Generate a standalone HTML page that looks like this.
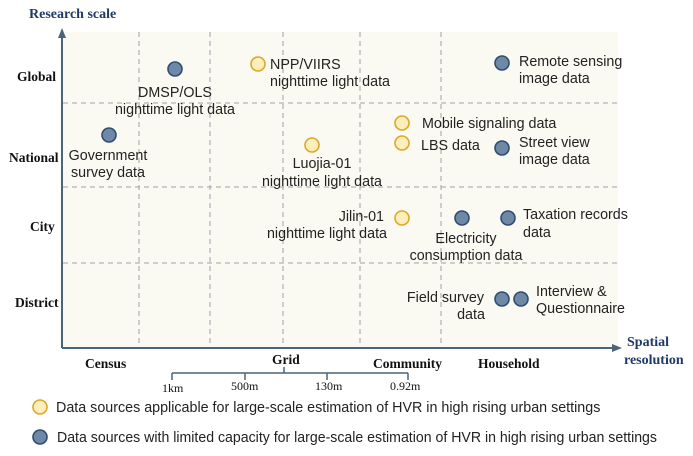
<!DOCTYPE html>
<html><head><meta charset="utf-8"><style>
html,body{margin:0;padding:0;background:#fff;width:693px;height:456px;overflow:hidden}
svg{display:block}
.t{font-family:"Liberation Sans",Arial,sans-serif;font-size:14.3px;fill:#222}
.m{text-anchor:middle}
.e{text-anchor:end}
.s{font-family:"Liberation Serif",serif;font-weight:bold;font-size:13.5px;fill:#111}
.b{font-family:"Liberation Serif",serif;font-weight:bold;font-size:14px;fill:#1f3a66}
.k{font-family:"Liberation Serif",serif;font-size:12px;fill:#111}
.y{fill:#fdeebb;stroke:#d9a92a;stroke-width:1.6}
.d{fill:#6e89a6;stroke:#2e4d72;stroke-width:1.6}
</style></head><body>
<svg width="693" height="456" viewBox="0 0 693 456">
<rect x="63" y="32" width="555" height="316" fill="#fbfaf2"/>
<g stroke="#9aa3ab" stroke-width="1" stroke-dasharray="5,4" fill="none">
<line x1="139" y1="32" x2="139" y2="348"/>
<line x1="210" y1="32" x2="210" y2="348"/>
<line x1="283" y1="32" x2="283" y2="348"/>
<line x1="360" y1="32" x2="360" y2="348"/>
<line x1="441" y1="32" x2="441" y2="348"/>
<line x1="63" y1="103" x2="618" y2="103"/>
<line x1="63" y1="187" x2="618" y2="187"/>
<line x1="63" y1="263" x2="618" y2="263"/>
</g>
<g stroke="#4a6478" stroke-width="2" fill="none">
<line x1="62" y1="348" x2="614" y2="348"/>
<line x1="62" y1="348" x2="62" y2="36"/>
</g>
<polygon points="62,28 58,38 66,38" fill="#4a6478"/>
<polygon points="622,348 612,344 612,352" fill="#4a6478"/>
<text class="b" x="29" y="18">Research scale</text>
<text class="b" x="627" y="346">Spatial</text>
<text class="b" x="624" y="364">resolution</text>
<text class="s" x="17" y="81">Global</text>
<text class="s" x="9" y="162">National</text>
<text class="s" x="30" y="231">City</text>
<text class="s" x="15" y="307">District</text>
<text class="s" x="85" y="368">Census</text>
<text class="s" x="272" y="364">Grid</text>
<text class="s" x="373" y="368">Community</text>
<text class="s" x="478" y="368">Household</text>
<g stroke="#4a6478" stroke-width="1.5" fill="none">
<line x1="172" y1="373" x2="408" y2="373"/>
<line x1="172" y1="373" x2="172" y2="380"/>
<line x1="245" y1="373" x2="245" y2="380"/>
<line x1="327" y1="373" x2="327" y2="380"/>
<line x1="408" y1="373" x2="408" y2="380"/>
<line x1="284" y1="373" x2="284" y2="367"/>
</g>
<text class="k" x="162" y="392">1km</text>
<text class="k" x="231" y="390">500m</text>
<text class="k" x="315" y="390">130m</text>
<text class="k" x="390" y="390">0.92m</text>
<circle class="d" cx="175" cy="69" r="7"/>
<circle class="y" cx="258" cy="64" r="7"/>
<circle class="d" cx="502" cy="63" r="7"/>
<circle class="d" cx="109" cy="135" r="7"/>
<circle class="y" cx="312" cy="145" r="7"/>
<circle class="y" cx="402" cy="123" r="7"/>
<circle class="y" cx="402" cy="143" r="7"/>
<circle class="d" cx="502" cy="148" r="7"/>
<circle class="y" cx="402" cy="218" r="7"/>
<circle class="d" cx="462" cy="218" r="7"/>
<circle class="d" cx="508" cy="218" r="7"/>
<circle class="d" cx="502" cy="299" r="7"/>
<circle class="d" cx="521" cy="299" r="7"/>
<text class="t m" x="175" y="97">DMSP/OLS</text>
<text class="t m" x="175" y="114">nighttime light data</text>
<text class="t" x="270" y="69">NPP/VIIRS</text>
<text class="t" x="270" y="86">nighttime light data</text>
<text class="t" x="519" y="66">Remote sensing</text>
<text class="t" x="519" y="83">image data</text>
<text class="t m" x="108" y="160">Government</text>
<text class="t m" x="108" y="177">survey data</text>
<text class="t m" x="322" y="168">Luojia-01</text>
<text class="t m" x="322" y="186">nighttime light data</text>
<text class="t" x="422" y="128">Mobile signaling data</text>
<text class="t" x="421" y="150">LBS data</text>
<text class="t" x="519" y="147">Street view</text>
<text class="t" x="519" y="164">image data</text>
<text class="t e" x="384" y="221">Jilin-01</text>
<text class="t m" x="327" y="238">nighttime light data</text>
<text class="t m" x="466" y="243">Electricity</text>
<text class="t m" x="466" y="260">consumption data</text>
<text class="t" x="523" y="219">Taxation records</text>
<text class="t" x="523" y="237">data</text>
<text class="t e" x="484" y="302">Field survey</text>
<text class="t m" x="471" y="319">data</text>
<text class="t" x="536" y="296">Interview &amp;</text>
<text class="t" x="536" y="313">Questionnaire</text>
<circle class="y" cx="40" cy="407" r="7"/>
<circle class="d" cx="40" cy="437" r="7"/>
<text class="t" x="56" y="412">Data sources applicable for large-scale estimation of HVR in high rising urban settings</text>
<text class="t" x="57" y="442" textLength="600" lengthAdjust="spacingAndGlyphs">Data sources with limited capacity for large-scale estimation of HVR in high rising urban settings</text>
</svg>
</body></html>
